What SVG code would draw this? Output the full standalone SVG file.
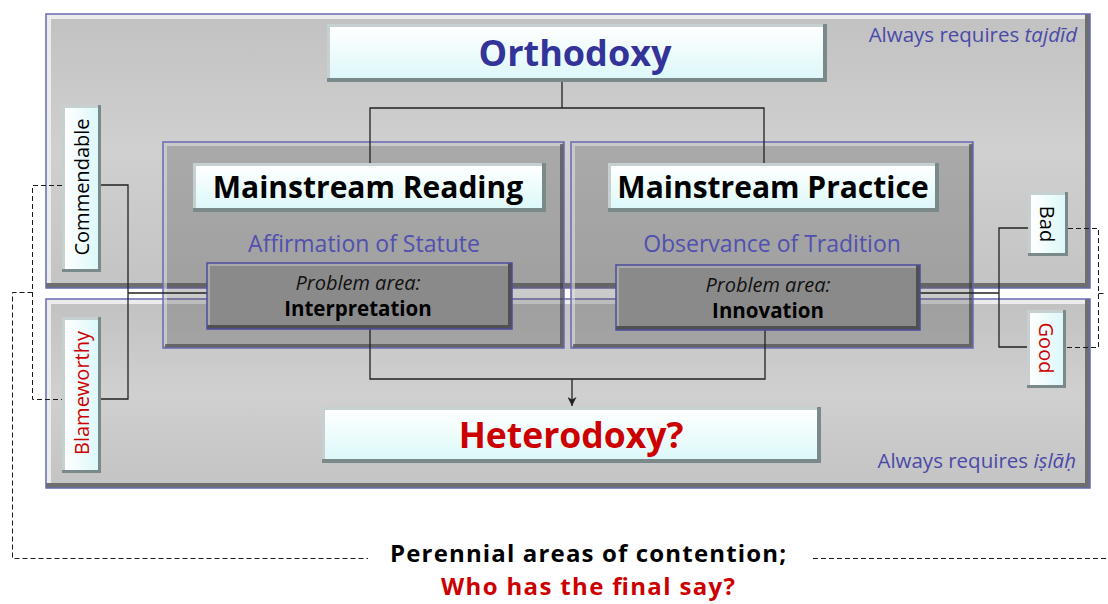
<svg xmlns="http://www.w3.org/2000/svg" width="1108" height="604" viewBox="0 0 1108 604">
  <defs>
    <linearGradient id="gPanel" x1="0" y1="0" x2="0" y2="1">
      <stop offset="0" stop-color="#c2c2c2"/>
      <stop offset="0.5" stop-color="#d0d0d0"/>
      <stop offset="1" stop-color="#c4c4c4"/>
    </linearGradient>
    <linearGradient id="gWhite" x1="0" y1="0" x2="0" y2="1">
      <stop offset="0" stop-color="#ffffff"/>
      <stop offset="1" stop-color="#ddf8f9"/>
    </linearGradient>
    <linearGradient id="gWhiteH" x1="0" y1="0" x2="1" y2="0">
      <stop offset="0" stop-color="#ffffff"/>
      <stop offset="1" stop-color="#ddf8f9"/>
    </linearGradient>
    <marker id="arrow" markerWidth="9" markerHeight="9" refX="9" refY="4.5" orient="auto" markerUnits="userSpaceOnUse" viewBox="0 0 9 9">
      <path d="M0,0 L9,4.5 L0,9 L2.5,4.5 Z" fill="#222"/>
    </marker>
  </defs>
  <style>
    .pdark { fill: #6e6e6e; }
    .plight { fill: #ececec; }
    .pfill { fill: url(#gPanel); }
    .pborder { fill: none; stroke: #6a6ab4; stroke-width: 1.5; }
    .ifill { fill: #505050; fill-opacity: 0.3; }
    .ilight { fill: none; stroke: #e0e0e0; stroke-opacity: 0.6; stroke-width: 4; }
    .idark { fill: none; stroke: #3a3a3a; stroke-opacity: 0.6; stroke-width: 4; }
    .wdark { fill: #7a8a8a; }
    .wlight { fill: #c6d0d0; }
    .wfill { fill: url(#gWhite); }
    .wfillh { fill: url(#gWhiteH); }
    .qdark { fill: #505050; }
    .qlight { fill: #a8a8a8; }
    .qfill { fill: #8a8a8a; }
    .qborder { fill: none; stroke: #4c4ca0; stroke-width: 1.5; }
    .conn { fill: none; stroke: #222; stroke-width: 1.3; }
    .dash { fill: none; stroke: #1a1a1a; stroke-width: 1; stroke-dasharray: 5 3; }
    text { font-family: "Open Sans", "Noto Sans", "DejaVu Sans", sans-serif; }
    .big { font-weight: bold; font-size: 30px; text-anchor: middle; fill: #000; }
    .sub { font-size: 23px; text-anchor: middle; fill: #5050b0; }
    .note { font-size: 20.5px; text-anchor: end; fill: #4a4aa8; }
    .pa { font-size: 20px; font-style: italic; text-anchor: middle; fill: #111; }
    .pb { font-size: 20.5px; font-weight: bold; text-anchor: middle; fill: #000; }
    .vert { font-size: 20px; text-anchor: middle; dominant-baseline: central; }
    .foot { font-size: 24px; font-weight: bold; text-anchor: middle; }
  </style>

  <!-- Outer panels -->
  <g id="panel-top">
    <rect class="pdark" x="46" y="14" width="1044" height="274"/>
    <rect class="plight" x="46" y="14" width="1039" height="269"/>
    <rect class="pfill" x="51" y="19" width="1034" height="264"/>
    <rect class="pborder" x="46" y="14" width="1044" height="274"/>
    <text class="note" x="1077" y="42">Always requires <tspan font-style="italic">tajdīd</tspan></text>
  </g>
  <g id="panel-bottom">
    <rect class="pdark" x="46" y="299" width="1044" height="189"/>
    <rect class="plight" x="46" y="299" width="1039" height="184"/>
    <rect class="pfill" x="51" y="304" width="1034" height="179"/>
    <rect class="pborder" x="46" y="299" width="1044" height="189"/>
    <text class="note" x="1076" y="468">Always requires <tspan font-style="italic">iṣlāḥ</tspan></text>
  </g>

  <!-- Inner panels -->
  <g id="panel-reading">
    <rect class="ifill" x="163" y="142" width="401" height="206"/>
    <path class="ilight" d="M165,346 V144 H562"/>
    <path class="idark" d="M562,144 V346 H165"/>
    <rect class="pborder" x="163" y="142" width="401" height="206"/>
    <text class="sub" x="364" y="252">Affirmation of Statute</text>
  </g>
  <g id="panel-practice">
    <rect class="ifill" x="571" y="142" width="402" height="206"/>
    <path class="ilight" d="M573,346 V144 H971"/>
    <path class="idark" d="M971,144 V346 H573"/>
    <rect class="pborder" x="571" y="142" width="402" height="206"/>
    <text class="sub" x="772" y="252">Observance of Tradition</text>
  </g>

  <!-- Connectors -->
  <g id="connectors">
    <path class="conn" d="M562,82 V108 M370,163 V108 H764 V163"/>
    <path class="conn" d="M370,329 V379 H765 V330"/>
    <path class="conn" d="M572,379 V406" marker-end="url(#arrow)"/>
    <path class="conn" d="M101,185 H128 V399 H101 M128,293 H207"/>
    <path class="conn" d="M1028,228 H999 V347 H1027 M920,293 H999"/>
    <path class="dash" d="M62,185.5 H32.5 V399.5 H62 M32.5,292.5 H12.5 V558.5 H368"/>
    <path class="dash" d="M813,558.5 H1108 M1068,228.5 H1098.5 V347.5 H1066 M1098.5,293.5 H1106"/>
  </g>

  <!-- White nodes -->
  <g id="orthodoxy">
    <rect class="wdark" x="327" y="24" width="500" height="58"/>
    <rect class="wlight" x="327" y="24" width="496" height="54"/>
    <rect class="wfill" x="330" y="27" width="493" height="51"/>
    <text x="575" y="66" font-size="36" font-weight="bold" text-anchor="middle" fill="#333399">Orthodoxy</text>
  </g>
  <g id="mainstream-reading">
    <rect class="wdark" x="193" y="163" width="353" height="49"/>
    <rect class="wlight" x="193" y="163" width="349" height="45"/>
    <rect class="wfill" x="196" y="166" width="346" height="42"/>
    <text class="big" x="368" y="198">Mainstream Reading</text>
  </g>
  <g id="mainstream-practice">
    <rect class="wdark" x="608" y="163" width="331" height="49"/>
    <rect class="wlight" x="608" y="163" width="327" height="45"/>
    <rect class="wfill" x="611" y="166" width="324" height="42"/>
    <text class="big" x="773" y="198">Mainstream Practice</text>
  </g>
  <g id="heterodoxy">
    <rect class="wdark" x="322" y="407" width="499" height="56"/>
    <rect class="wlight" x="322" y="407" width="495" height="52"/>
    <rect class="wfill" x="325" y="410" width="492" height="49"/>
    <text x="571" y="448" font-size="35.5" font-weight="bold" text-anchor="middle" fill="#cc0000">Heterodoxy?</text>
  </g>

  <!-- Problem areas -->
  <g id="problem-interpretation">
    <rect class="qdark" x="207" y="263" width="305" height="66"/>
    <rect class="qlight" x="207" y="263" width="301" height="62"/>
    <rect class="qfill" x="210" y="266" width="298" height="59"/>
    <rect class="qborder" x="207" y="263" width="305" height="66"/>
    <text class="pa" x="358" y="290">Problem area:</text>
    <text class="pb" x="358" y="316">Interpretation</text>
  </g>
  <g id="problem-innovation">
    <rect class="qdark" x="616" y="265" width="304" height="65"/>
    <rect class="qlight" x="616" y="265" width="300" height="61"/>
    <rect class="qfill" x="619" y="268" width="297" height="58"/>
    <rect class="qborder" x="616" y="265" width="304" height="65"/>
    <text class="pa" x="768" y="292">Problem area:</text>
    <text class="pb" x="768" y="318">Innovation</text>
  </g>

  <!-- Vertical labels -->
  <g id="commendable">
    <rect class="wdark" x="62" y="105" width="39" height="167"/>
    <rect class="wlight" x="62" y="105" width="36" height="164"/>
    <rect class="wfillh" x="65" y="108" width="33" height="161"/>
    <text class="vert" fill="#000" font-size="21" transform="translate(81,187) rotate(-90)">Commendable</text>
  </g>
  <g id="blameworthy">
    <rect class="wdark" x="62" y="317" width="39" height="156"/>
    <rect class="wlight" x="62" y="317" width="36" height="153"/>
    <rect class="wfillh" x="65" y="320" width="33" height="150"/>
    <text class="vert" fill="#cc0000" transform="translate(81,393) rotate(-90)">Blameworthy</text>
  </g>
  <g id="bad">
    <rect class="wdark" x="1028" y="192" width="40" height="64"/>
    <rect class="wlight" x="1028" y="192" width="37" height="61"/>
    <rect class="wfillh" x="1031" y="195" width="34" height="58"/>
    <text class="vert" fill="#000" transform="translate(1047,224) rotate(90)">Bad</text>
  </g>
  <g id="good">
    <rect class="wdark" x="1027" y="310" width="39" height="78"/>
    <rect class="wlight" x="1027" y="310" width="36" height="75"/>
    <rect class="wfillh" x="1030" y="313" width="33" height="72"/>
    <text class="vert" fill="#cc0000" transform="translate(1046,348) rotate(90)">Good</text>
  </g>

  <!-- Footer -->
  <g id="footer">
    <text class="foot" x="588" y="562" fill="#000" textLength="396" lengthAdjust="spacing">Perennial areas of contention;</text>
    <text class="foot" x="588" y="595" fill="#cc0000" textLength="294" lengthAdjust="spacing">Who has the final say?</text>
  </g>
</svg>
